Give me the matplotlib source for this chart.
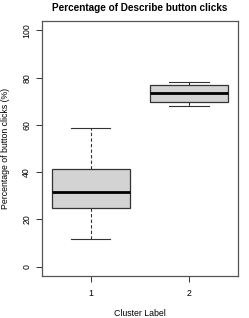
import matplotlib.pyplot as plt

plt.rcParams['font.family'] = ['Liberation Sans', 'DejaVu Sans']

clusters = ["1", "2"]
whislo = [11.7, 68.1]
q1 = [25.0, 69.5]
med = [31.6, 73.7]
q3 = [41.2, 77.1]
whishi = [58.6, 78.2]

stats = [
    {"label": c, "whislo": lo, "q1": a, "med": m, "q3": b, "whishi": hi, "fliers": []}
    for c, lo, a, m, b, hi in zip(clusters, whislo, q1, med, q3, whishi)
]

fig = plt.figure(figsize=(2.49, 3.18), dpi=100)
ax = fig.add_axes([0.1675, 0.132, 0.789, 0.802])

ax.bxp(stats, positions=[1, 2], widths=0.8, patch_artist=True,
       boxprops=dict(facecolor="#d3d3d3", edgecolor="#333333", linewidth=0.9),
       medianprops=dict(color="black", linewidth=2),
       whiskerprops=dict(color="#333333", linestyle=(0, (3, 2)), linewidth=0.8),
       capprops=dict(color="#333333", linewidth=0.8),
       capwidths=0.4)

ax.set_xlim(0.5, 2.5)
ax.set_ylim(-4, 104)
ax.set_yticks([0, 20, 40, 60, 80, 100])
ax.set_xticks([1, 2])
ax.set_xticklabels(clusters)
ax.tick_params(axis="both", labelsize=6.3, length=4, width=0.7, color="#333333")
ax.tick_params(axis="x", pad=5)
plt.setp(ax.get_yticklabels(), rotation=90, va="center")
for s in ax.spines.values():
    s.set_color("#555555")
    s.set_linewidth(0.9)

ax.set_title("Percentage of Describe button clicks", fontsize=7.2, fontweight="bold", pad=7)
ax.set_xlabel("Cluster Label", fontsize=6.3, labelpad=8)
ax.set_ylabel("Percentage of button clicks (%)", fontsize=6.3, labelpad=9)

fig.savefig("out.png", dpi=100)
